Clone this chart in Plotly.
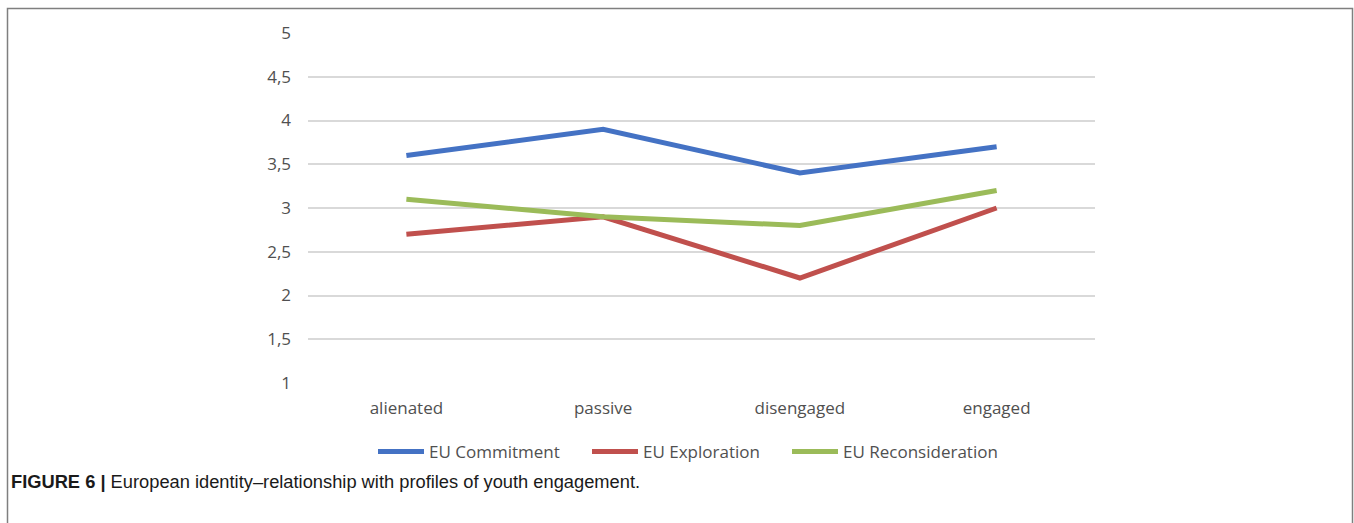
import plotly.graph_objects as go

# Engagement profiles on the x axis
profiles = ["alienated", "passive", "disengaged", "engaged"]

# Mean scores of each European identity dimension per profile
eu_commitment = [3.6, 3.9, 3.4, 3.7]
eu_exploration = [2.7, 2.9, 2.2, 3.0]
eu_reconsideration = [3.1, 2.9, 2.8, 3.2]

# Y axis ticks (comma decimal separator)
y_tickvals = [1, 1.5, 2, 2.5, 3, 3.5, 4, 4.5, 5]
y_ticktext = ["1", "1,5", "2", "2,5", "3", "3,5", "4", "4,5", "5"]

series = [
    ("EU Commitment", eu_commitment, "#4472C4"),
    ("EU Exploration", eu_exploration, "#C0504D"),
    ("EU Reconsideration", eu_reconsideration, "#9BBB59"),
]

W, H = 1354, 523
ML, MR, MT, MB = 308, 259, 33, 140
PW, PH = W - ML - MR, H - MT - MB


def px_x(px):
    return (px - ML) / PW


def px_y(py):
    return (H - MB - py) / PH


tick_font = dict(family="Open Sans", size=17, color="#505050")

# each series gets its own legend box so the entries sit where wanted
legend_left = [373, 587, 787]
legend_names = ["legend", "legend2", "legend3"]

fig = go.Figure()
for (name, vals, color), lg in zip(series, legend_names):
    fig.add_trace(go.Scatter(
        x=profiles, y=vals, name=name, mode="lines",
        line=dict(color=color, width=5), legend=lg,
    ))

legend_style = {}
for lg, left in zip(legend_names, legend_left):
    legend_style[lg] = dict(
        orientation="h", x=px_x(left), xanchor="left",
        y=px_y(452), yanchor="middle",
        font=tick_font, itemwidth=46, bgcolor="rgba(0,0,0,0)",
        borderwidth=0,
    )

fig.update_layout(
    width=W, height=H,
    margin=dict(l=ML, r=MR, t=MT, b=MB),
    paper_bgcolor="white", plot_bgcolor="white",
    showlegend=True,
    **legend_style,
    xaxis=dict(
        type="category", range=[-0.5, 3.5], showgrid=False, zeroline=False,
        showline=False, ticks="", tickfont=tick_font, ticklabelstandoff=13,
    ),
    yaxis=dict(
        range=[1, 5], tickvals=y_tickvals, ticktext=y_ticktext,
        showgrid=True, gridcolor="#D9D9D9", gridwidth=1.5,
        zeroline=False, showline=False, ticks="",
        tickfont=tick_font, ticklabelstandoff=16,
    ),
    shapes=[
        # frame around the figure panel (open at the bottom)
        dict(type="path", xref="paper", yref="paper",
             path="M {l},{b} L {l},{t} L {r},{t} L {r},{b}".format(
                 l=px_x(7.5), r=px_x(1352.5), t=px_y(8.5), b=px_y(530)),
             line=dict(color="#7F7F7F", width=1.5)),
    ],
    annotations=[
        dict(
            text="<b>FIGURE 6 |</b> European identity–relationship with profiles of youth engagement.",
            xref="paper", yref="paper",
            x=px_x(9), xanchor="left",
            y=px_y(481), yanchor="middle",
            showarrow=False,
            font=dict(family="Liberation Sans", size=18.3, color="#1a1a1a"),
        )
    ],
)

fig.write_html("out.html")
